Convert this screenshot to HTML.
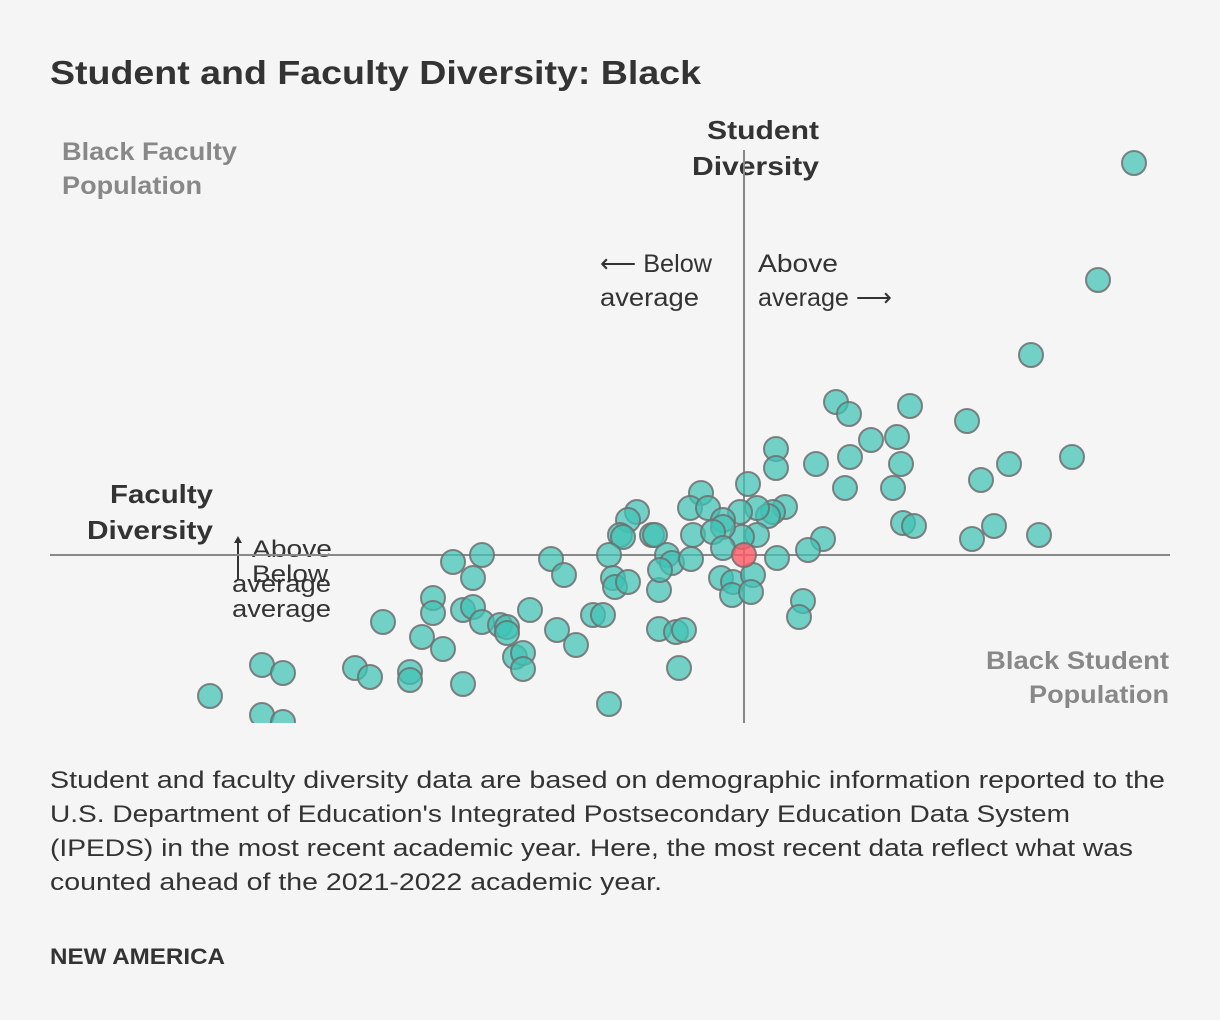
<!DOCTYPE html>
<html><head><meta charset="utf-8">
<style>
html,body{margin:0;padding:0;background:#f5f5f5;}
svg{display:block;font-family:"Liberation Sans",sans-serif;}
</style></head>
<body>
<svg id="chart" width="1220" height="1020" viewBox="0 0 1220 1020" xmlns="http://www.w3.org/2000/svg">
<rect width="1220" height="1020" fill="#f5f5f5"/>
<text x="50" y="84" font-size="33" font-weight="bold" fill="#333" textLength="651" lengthAdjust="spacingAndGlyphs">Student and Faculty Diversity: Black</text>
<g font-size="25" font-weight="bold" fill="#888">
<text x="62" y="160" textLength="175" lengthAdjust="spacingAndGlyphs">Black Faculty</text><text x="62" y="194" textLength="140" lengthAdjust="spacingAndGlyphs">Population</text></g>
<g font-size="26" font-weight="bold" fill="#333">
<text x="707" y="139" textLength="112" lengthAdjust="spacingAndGlyphs">Student</text><text x="692" y="175" textLength="127" lengthAdjust="spacingAndGlyphs">Diversity</text></g>
<g font-size="26" font-weight="bold" fill="#333">
<text x="110" y="503" textLength="103" lengthAdjust="spacingAndGlyphs">Faculty</text><text x="87" y="539" textLength="126" lengthAdjust="spacingAndGlyphs">Diversity</text></g>
<g font-size="25" fill="#333">
<text x="600" y="272" textLength="112" lengthAdjust="spacingAndGlyphs">⟵ Below</text><text x="600" y="306" textLength="99" lengthAdjust="spacingAndGlyphs">average</text></g>
<g font-size="25" fill="#333">
<text x="758" y="272" textLength="80" lengthAdjust="spacingAndGlyphs">Above</text><text x="758" y="306" textLength="134" lengthAdjust="spacingAndGlyphs">average ⟶</text></g>
<g font-size="24" fill="#333">
<line x1="238" y1="538" x2="238" y2="580" stroke="#333" stroke-width="2"/>
<path d="M234,543 L238,536 L242,543 Z" fill="#333"/>
<text x="252" y="557" textLength="80" lengthAdjust="spacingAndGlyphs">Above</text><text x="232" y="592" textLength="99" lengthAdjust="spacingAndGlyphs">average</text>
<text x="252" y="582" textLength="76" lengthAdjust="spacingAndGlyphs">Below</text><text x="232" y="617" textLength="99" lengthAdjust="spacingAndGlyphs">average</text></g>
<g font-size="25" font-weight="bold" fill="#888">
<text x="986" y="669" textLength="183" lengthAdjust="spacingAndGlyphs">Black Student</text><text x="1029" y="703" textLength="140" lengthAdjust="spacingAndGlyphs">Population</text></g>
<line x1="50" y1="555" x2="1170" y2="555" stroke="#888" stroke-width="2"/>
<line x1="744" y1="150" x2="744" y2="723" stroke="#888" stroke-width="2"/>
<defs><clipPath id="plotclip"><rect x="40" y="140" width="1180" height="583"/></clipPath></defs>
<g id="points" clip-path="url(#plotclip)"></g>
<g font-size="24" fill="#333">
<text x="50" y="788" textLength="1115" lengthAdjust="spacingAndGlyphs">Student and faculty diversity data are based on demographic information reported to the</text>
<text x="50" y="822" textLength="1020" lengthAdjust="spacingAndGlyphs">U.S. Department of Education's Integrated Postsecondary Education Data System</text>
<text x="50" y="856" textLength="1083" lengthAdjust="spacingAndGlyphs">(IPEDS) in the most recent academic year. Here, the most recent data reflect what was</text>
<text x="50" y="890" textLength="612" lengthAdjust="spacingAndGlyphs">counted ahead of the 2021-2022 academic year.</text></g>
<text x="50" y="964" font-size="22" font-weight="bold" fill="#333" textLength="175" lengthAdjust="spacingAndGlyphs">NEW AMERICA</text>
</svg>
<script>
const studentDiv = [39.0,35.4,28.7,9.2,10.5,16.6,22.3,3.2,12.7,15.3,10.6,3.2,7.2,15.7,26.5,32.8,23.7,10.1,14.9,0.4,15.9,17.0,25.0,22.8,29.5,7.9,6.4,3.3,5.9,5.5,4.1,2.9,2.4,1.3,-0.4,1.3,-0.2,-4.3,-5.4,-3.6,-2.1,-2.1,-10.7,-11.6,-12.4,-12.1,-9.2,-8.9,-5.1,-3.1,-2.1,-13.5,-7.7,-7.2,-5.3,-13.1,-12.9,-11.6,-8.5,-2.3,-1.1,-1.2,0.9,0.7,-15.1,-14.1,-29.1,-26.2,-27.1,-19.3,-18.0,-31.1,-31.1,-28.1,-27.1,-26.2,-24.4,-23.7,-23.7,-21.4,-18.7,-16.8,-36.1,-32.2,-30.1,-22.9,-22.1,-22.1,-38.9,-37.4,-33.4,-33.4,-28.1,-48.2,-46.1,-53.4,-48.2,-46.1,-13.5,-6.5,-8.5,-6.8,-6.0,-8.4];
const facultyDiv = [39.2,27.5,20.0,15.3,14.1,14.9,13.4,10.6,11.5,11.8,9.8,8.7,9.1,9.1,9.1,9.8,7.5,6.7,6.7,7.1,3.2,2.9,2.9,1.6,2.0,1.6,0.5,-0.3,-4.6,-6.2,4.8,4.3,3.9,4.7,4.3,2.0,1.8,6.2,4.7,4.7,3.5,2.8,4.3,3.5,2.0,1.8,2.0,2.0,2.0,2.3,0.7,0,0,-0.8,-0.4,-2.3,-3.2,-2.7,-3.5,-2.3,-2.7,-4.0,-2.0,-3.7,-6.0,-6.0,-0.7,0,-2.3,-0.4,-2.0,-4.3,-5.8,-5.5,-5.2,-6.7,-7.0,-7.2,-7.8,-5.5,-7.5,-9.0,-6.7,-8.2,-9.4,-10.2,-9.8,-11.4,-11.3,-12.2,-11.7,-12.5,-12.9,-11.0,-11.8,-14.1,-16.0,-16.7,-14.9,-11.3,-7.4,-7.7,-7.5,-1.5];
const highlightX = [0];
const highlightY = [0];
function xScale(v){return 744 + v*10;}
function yScale(v){return 555 - v*10;}
const NS="http://www.w3.org/2000/svg";
const g=document.getElementById('points');
for(let i=0;i<studentDiv.length;i++){
  const c=document.createElementNS(NS,'circle');
  c.setAttribute('cx',xScale(studentDiv[i]));
  c.setAttribute('cy',yScale(facultyDiv[i]));
  c.setAttribute('r',12);
  c.setAttribute('fill','rgba(64,196,182,0.72)');
  c.setAttribute('stroke','rgba(110,110,110,0.85)');
  c.setAttribute('stroke-width','2');
  
  
  g.appendChild(c);
}
for(let i=0;i<highlightX.length;i++){
  const c=document.createElementNS(NS,'circle');
  c.setAttribute('cx',xScale(highlightX[i]));
  c.setAttribute('cy',yScale(highlightY[i]));
  c.setAttribute('r',12);
  c.setAttribute('fill','rgba(255,90,100,0.8)');
  c.setAttribute('stroke','rgba(110,110,110,0.85)');
  c.setAttribute('stroke-width','2');
  
  
  g.appendChild(c);
}
</script>
</body></html>
